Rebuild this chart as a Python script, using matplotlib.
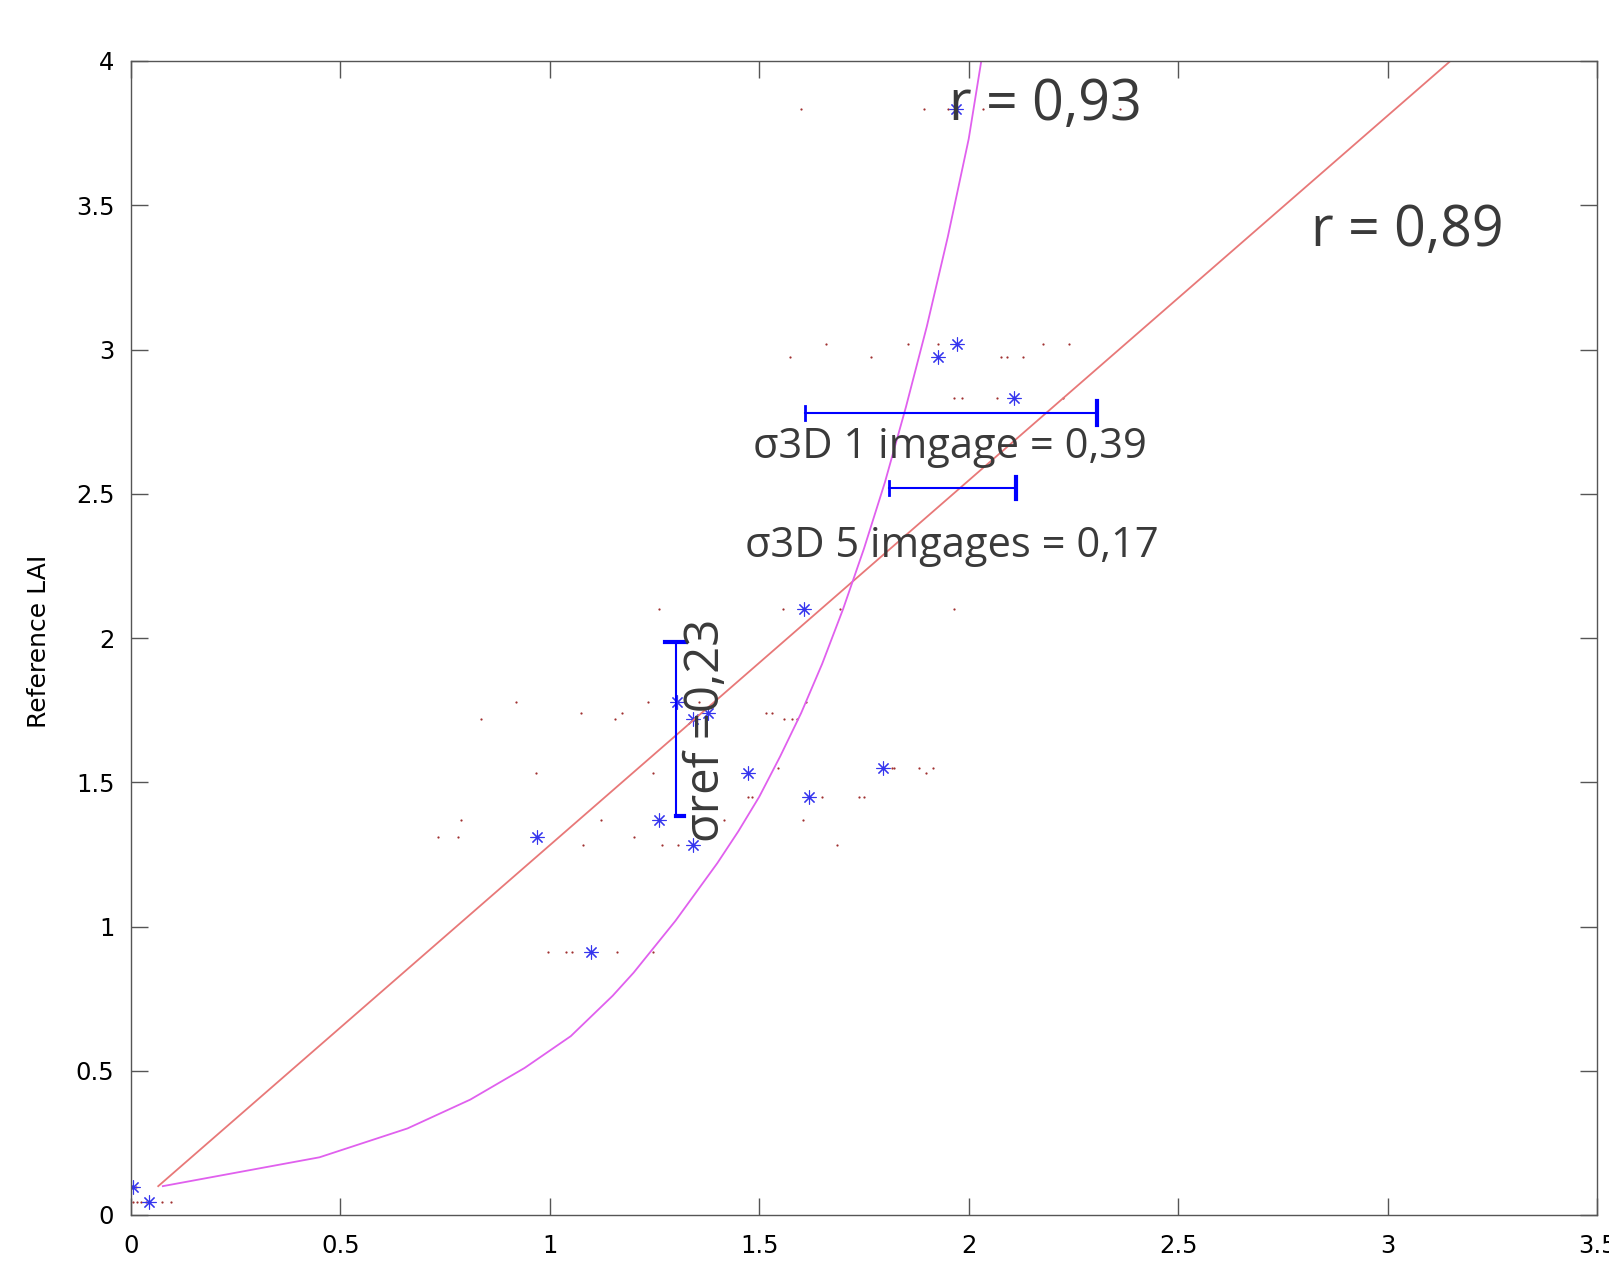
import matplotlib
matplotlib.use("Agg")
import matplotlib.pyplot as plt

# mean estimated LAI per plot (blue stars) against the reference LAI
star_x = [0.005, 0.043, 0.970, 1.098, 1.261, 1.304, 1.342, 1.378, 1.342,
          1.474, 1.607, 1.619, 1.796, 1.927, 1.973, 2.109, 1.970]
star_y = [0.097, 0.045, 1.310, 0.910, 1.369, 1.778, 1.720, 1.740, 1.283,
          1.532, 2.100, 1.449, 1.550, 2.974, 3.020, 2.832, 3.834]

# single-image estimates (small red dots), one row per reference value
row_y = [0.097, 0.045, 0.91, 1.283, 1.31, 1.369, 1.449, 1.532, 1.55,
         1.72, 1.74, 1.778, 2.10, 2.832, 2.974, 3.02, 3.834]
row_x = [
    [0.005, 0.012],
    [0.005, 0.015, 0.025, 0.035, 0.075, 0.095],
    [0.996, 1.039, 1.053, 1.160, 1.247],
    [1.080, 1.268, 1.306, 1.686],
    [0.733, 0.781, 1.201],
    [0.788, 1.123, 1.416, 1.605],
    [1.474, 1.483, 1.650, 1.739, 1.750],
    [0.967, 1.247, 1.899],
    [1.545, 1.817, 1.822, 1.882, 1.915],
    [0.836, 1.156, 1.560, 1.579, 1.591],
    [1.075, 1.173, 1.517, 1.531],
    [0.919, 1.235, 1.357, 1.612],
    [1.261, 1.557, 1.693, 1.966],
    [1.966, 1.985, 2.068, 2.224],
    [1.574, 1.767, 2.078, 2.092, 2.130],
    [1.660, 1.856, 1.927, 2.178, 2.240],
    [1.600, 1.894, 1.951, 2.035, 2.360],
]

# fitted curves
lin_x = [0.065, 3.15]
lin_y = [0.10, 4.00]
exp_x = [0.076, 0.45, 0.66, 0.81, 0.94, 1.05, 1.10, 1.15, 1.20, 1.25,
         1.30, 1.35, 1.40, 1.45, 1.50, 1.55, 1.60, 1.65, 1.70, 1.75,
         1.80, 1.85, 1.90, 1.95, 2.00, 2.03]
exp_y = [0.10, 0.20, 0.30, 0.40, 0.51, 0.62, 0.69, 0.76, 0.84, 0.93,
         1.02, 1.12, 1.22, 1.33, 1.45, 1.59, 1.74, 1.91, 2.10, 2.31,
         2.54, 2.80, 3.08, 3.39, 3.73, 4.00]

xticks = [0, 0.5, 1, 1.5, 2, 2.5, 3, 3.5]
yticks = [0, 0.5, 1, 1.5, 2, 2.5, 3, 3.5, 4]

dots_x = [x for xs in row_x for x in xs]
dots_y = [y for y, xs in zip(row_y, row_x) for _ in xs]

fig = plt.figure(figsize=(16.09, 12.70), dpi=100)
ax = fig.add_axes([131 / 1609, 1 - 1215 / 1270, 1466 / 1609, 1154 / 1270])

ax.plot(dots_x, dots_y, ls="none", marker="o", ms=1.6, mew=0, color="#a03030")
ax.plot(star_x, star_y, ls="none", marker=(8, 2, 0), ms=10, mew=0.8, color="#3535ee")
ax.plot(lin_x, lin_y, color="#e87878", lw=1.3)
ax.plot(exp_x, exp_y, color="#e060ee", lw=1.3)

# sigma bars drawn on top of the plot
blue = "#0000ff"
ax.plot([1.61, 2.307], [2.78, 2.78], color=blue, lw=1.5)
ax.plot([1.61, 1.61], [2.757, 2.803], color=blue, lw=2)
ax.plot([2.307, 2.307], [2.737, 2.823], color=blue, lw=3)
ax.plot([1.81, 2.114], [2.52, 2.52], color=blue, lw=1.5)
ax.plot([1.81, 1.81], [2.497, 2.543], color=blue, lw=2)
ax.plot([2.114, 2.114], [2.482, 2.558], color=blue, lw=3)
ax.plot([1.30, 1.30], [1.383, 1.986], color=blue, lw=1.5)
ax.plot([1.274, 1.326], [1.986, 1.986], color=blue, lw=3)
ax.plot([1.30, 1.32], [1.383, 1.383], color=blue, lw=3)

txt = dict(family=["Open Sans", "DejaVu Sans"], color="#3a3a3a")
ax.text(1.954, 3.846, "r = 0,93", fontsize=40, ha="left", va="center", **txt)
ax.text(2.818, 3.41, "r = 0,89", fontsize=40, ha="left", va="center", **txt)
ax.text(1.956, 2.662, "σ3D 1 imgage = 0,39", fontsize=30, ha="center", va="center", **txt)
ax.text(1.96, 2.318, "σ3D 5 imgages = 0,17", fontsize=30, ha="center", va="center", **txt)
ax.text(1.373, 1.681, "σref =0,23", fontsize=34, rotation=90, ha="center", va="center", **txt)

ax.set_xlim(0, 3.5)
ax.set_ylim(0, 4)
ax.set_xticks(xticks)
ax.set_yticks(yticks)
ax.set_xticklabels([f"{t:g}" for t in xticks])
ax.set_yticklabels([f"{t:g}" for t in yticks])
ax.tick_params(direction="in", length=12, width=1, color="#555555",
               top=True, right=True, labelsize=17.5, pad=12)
ax.tick_params(axis="x", pad=14)
for s in ax.spines.values():
    s.set_color("#555555")
    s.set_linewidth(1)

fig.text(39 / 1609, 1 - 641 / 1270, "Reference LAI", rotation=90,
         ha="center", va="center", fontsize=18)

fig.savefig("out.png", dpi=100)
